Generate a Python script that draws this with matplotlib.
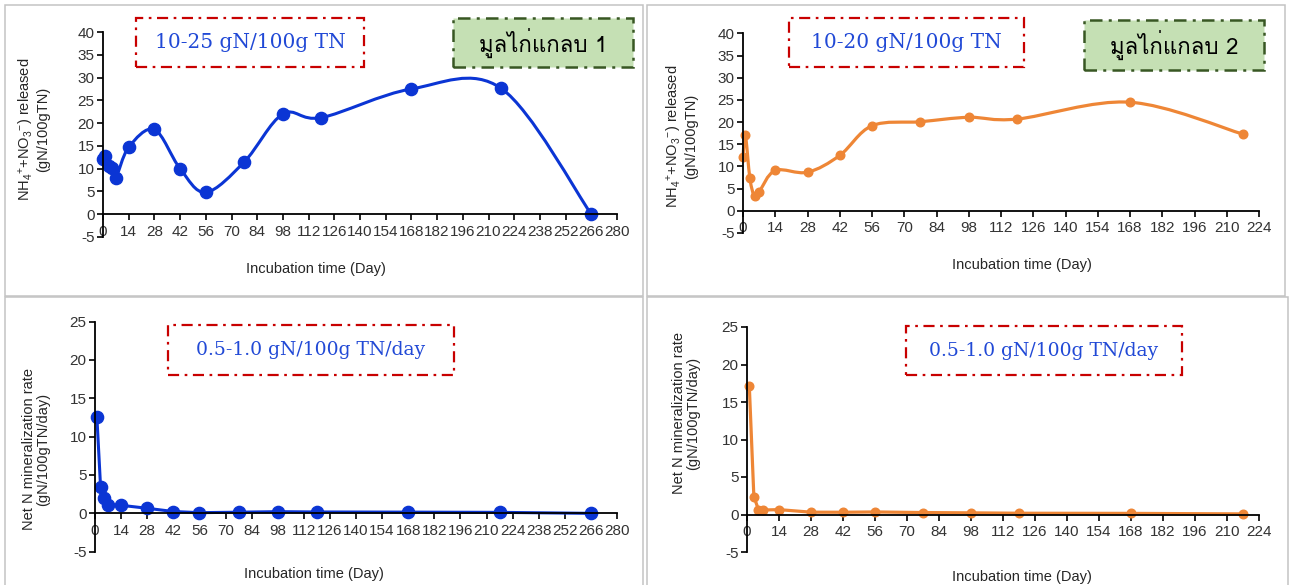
import numpy as np
import matplotlib
matplotlib.use("Agg")
import matplotlib.pyplot as plt
from matplotlib.patches import Rectangle, PathPatch
from matplotlib.path import Path
from matplotlib import font_manager as fm
from matplotlib.ft2font import FT2Font

# ---------------- data ----------------
days1 = [0, 1, 3, 5, 7, 14, 28, 42, 56, 77, 98, 119, 168, 217, 266]
released1 = [12.1, 12.8, 10.6, 10.1, 8.0, 14.7, 18.6, 10.0, 4.8, 11.5, 22.0, 21.2, 27.5, 27.6, 0.0]

days2 = [0, 1, 3, 5, 7, 14, 28, 42, 56, 77, 98, 119, 168, 217]
released2 = [12.2, 17.2, 7.3, 3.3, 4.3, 9.1, 8.7, 12.5, 19.2, 20.1, 21.1, 20.7, 24.5, 17.3]

rate_days1 = [1, 3, 5, 7, 14, 28, 42, 56, 77, 98, 119, 168, 217, 266]
rate1 = [12.6, 3.4, 2.0, 1.1, 1.05, 0.66, 0.24, 0.09, 0.15, 0.22, 0.18, 0.16, 0.13, 0.0]

rate_days2 = [1, 3, 5, 7, 14, 28, 42, 56, 77, 98, 119, 168, 217]
rate2 = [17.2, 2.4, 0.66, 0.6, 0.65, 0.31, 0.30, 0.34, 0.26, 0.22, 0.17, 0.15, 0.08]

xticks1 = list(range(0, 281, 14))
xticks2 = list(range(0, 225, 14))
yticks_top = list(range(-5, 41, 5))
yticks_bot = list(range(-5, 26, 5))

range_texts = ["10-25 gN/100g TN", "10-20 gN/100g TN",
               "0.5-1.0 gN/100g TN/day", "0.5-1.0 gN/100g TN/day"]
sample_names = ["มูลไก่แกลบ 1", "มูลไก่แกลบ 2"]
xlabel = "Incubation time (Day)"
ylabel_top = "NH$_4$$^{+}$+NO$_3$$^{-}$) released\n(gN/100gTN)"
ylabel_bot = "Net N mineralization rate\n(gN/100gTN/day)"

# ---------------- fonts ----------------
thai_family = None
names = set()
for f in fm.fontManager.ttflist:
    names.add(f.name)
for f in fm.fontManager.ttflist:
    if thai_family:
        break
    try:
        if 0x0E21 in FT2Font(f.fname).get_charmap():
            thai_family = f.name
    except Exception:
        pass
thai_fams = ([thai_family] if thai_family else []) + ["Liberation Sans", "DejaVu Sans"]
tick_family = "Liberation Sans Narrow" if "Liberation Sans Narrow" in names else "Liberation Sans"

plt.rcParams["font.family"] = ["Liberation Sans", "DejaVu Sans"]
plt.rcParams["axes.unicode_minus"] = False
plt.rcParams["mathtext.fontset"] = "custom"
plt.rcParams["mathtext.rm"] = "Liberation Sans"
plt.rcParams["mathtext.it"] = "Liberation Sans"

W, H = 1290, 585
fig = plt.figure(figsize=(W / 100, H / 100), dpi=100)
fig.patch.set_facecolor("white")

def fx(x):
    return x / W

def fy(y):
    return 1 - y / H

BLUE = "#0B35D4"
ORANGE = "#EE8636"
TXTBLUE = "#2149D6"
RED = "#C80000"
GREEN_FILL = "#C5E0B4"
GREEN_EDGE = "#385723"
TICKC = "#333333"

# panel borders
for (x0, y0, x1, y1) in [(5, 5, 643, 296), (647, 5, 1285, 296),
                         (5, 297, 643, 590), (647, 297, 1288, 590)]:
    fig.add_artist(Rectangle((fx(x0), fy(y1)), fx(x1 - x0), (y1 - y0) / H,
                             transform=fig.transFigure, fill=False,
                             edgecolor="#C3C3C3", lw=1.1))

def make_ax(px_left, px_right, px_top, px_bottom, xmax, xticks, ylo, yhi, yticks):
    ax = fig.add_axes([fx(px_left), fy(px_bottom), fx(px_right - px_left),
                       (px_bottom - px_top) / H])
    ax.set_xlim(0, xmax)
    ax.set_ylim(ylo, yhi)
    ax.set_xticks(xticks)
    ax.set_yticks(yticks)
    ax.spines["top"].set_visible(False)
    ax.spines["right"].set_visible(False)
    ax.spines["bottom"].set_position(("data", 0))
    for s in ("left", "bottom"):
        ax.spines[s].set_linewidth(1.3)
        ax.spines[s].set_color("black")
    ax.tick_params(axis="both", direction="out", length=4, width=1.2,
                   color="black", labelsize=11, labelcolor=TICKC, pad=2)
    ax.tick_params(axis="x", pad=3.5)
    for lab in ax.get_xticklabels() + ax.get_yticklabels():
        lab.set_family([tick_family, "Liberation Sans"])
    ax.patch.set_alpha(0)
    return ax

def smooth_path(xs, ys):
    pts = np.column_stack([xs, ys]).astype(float)
    n = len(pts)
    verts = [pts[0]]
    codes = [Path.MOVETO]
    for i in range(n - 1):
        p0 = pts[i - 1] if i > 0 else pts[i]
        p1 = pts[i]
        p2 = pts[i + 1]
        p3 = pts[i + 2] if i + 2 < n else pts[i + 1]
        c1 = p1 + (p2 - p0) / 6.0
        c2 = p2 - (p3 - p1) / 6.0
        verts += [c1, c2, p2]
        codes += [Path.CURVE4] * 3
    return Path(verts, codes)

def box(x0, y0, x1, y1, text, edge, fill, tcolor, size, family, lw=1.6):
    fig.add_artist(Rectangle((fx(x0), fy(y1)), fx(x1 - x0), (y1 - y0) / H,
                             transform=fig.transFigure,
                             facecolor=fill if fill else "none",
                             edgecolor=edge, lw=lw,
                             linestyle=(0, (5, 2.5, 1.2, 2.5))))
    fig.text(fx((x0 + x1) / 2), fy((y0 + y1) / 2), text, ha="center", va="center",
             color=tcolor, fontsize=size, family=family)

LABC = "#262626"

# ---- top-left ----
ax1 = make_ax(103, 617, 32, 237, 280, xticks1, -5, 40, yticks_top)
ax1.add_patch(PathPatch(smooth_path(days1, released1), transform=ax1.transData,
                        facecolor="none", edgecolor=BLUE, lw=2.2, clip_on=False))
ax1.plot(days1, released1, ls="none", marker="o", ms=8.8, color=BLUE, clip_on=False)
ax1.set_xlabel(xlabel, fontsize=10.5, color=LABC)
ax1.xaxis.set_label_coords(fx(316), fy(262), transform=fig.transFigure)
ax1.set_ylabel(ylabel_top, fontsize=10.5, color=LABC, va="center", linespacing=1.0)
ax1.yaxis.set_label_coords(fx(34), fy(129), transform=fig.transFigure)

# ---- top-right ----
ax2 = make_ax(743, 1259, 33.5, 233, 224, xticks2, -5, 40, yticks_top)
ax2.add_patch(PathPatch(smooth_path(days2, released2), transform=ax2.transData,
                        facecolor="none", edgecolor=ORANGE, lw=2.3, clip_on=False))
ax2.plot(days2, released2, ls="none", marker="o", ms=6.2, color=ORANGE, clip_on=False)
ax2.set_xlabel(xlabel, fontsize=10.5, color=LABC)
ax2.xaxis.set_label_coords(fx(1022), fy(258), transform=fig.transFigure)
ax2.set_ylabel(ylabel_top, fontsize=10.5, color=LABC, va="center", linespacing=1.0)
ax2.yaxis.set_label_coords(fx(682), fy(136), transform=fig.transFigure)

# ---- bottom-left ----
ax3 = make_ax(95, 617, 321.6, 551.7, 280, xticks1, -5, 25, yticks_bot)
ax3.plot(rate_days1, rate1, "-o", color=BLUE, lw=2.2, ms=8.8, clip_on=False)
ax3.set_xlabel(xlabel, fontsize=10.5, color=LABC)
ax3.xaxis.set_label_coords(fx(314), fy(567), transform=fig.transFigure)
ax3.set_ylabel(ylabel_bot, fontsize=10.5, color=LABC, va="center", linespacing=1.0)
ax3.yaxis.set_label_coords(fx(36), fy(449), transform=fig.transFigure)

# ---- bottom-right ----
ax4 = make_ax(747, 1259, 327, 552, 224, xticks2, -5, 25, yticks_bot)
ax4.plot(rate_days2, rate2, "-o", color=ORANGE, lw=2.3, ms=6.2, clip_on=False)
ax4.set_xlabel(xlabel, fontsize=10.5, color=LABC)
ax4.xaxis.set_label_coords(fx(1022), fy(570), transform=fig.transFigure)
ax4.set_ylabel(ylabel_bot, fontsize=10.5, color=LABC, va="center", linespacing=1.0)
ax4.yaxis.set_label_coords(fx(686), fy(413), transform=fig.transFigure)

# ---- annotation boxes ----
serif = ["DejaVu Serif"]
box(136, 18, 364, 67, range_texts[0], RED, None, TXTBLUE, 14.5, serif)
box(789, 18, 1024, 67, range_texts[1], RED, None, TXTBLUE, 14.5, serif)
box(167.5, 325, 453.5, 375, range_texts[2], RED, None, TXTBLUE, 13.5, serif)
box(905.5, 326, 1182, 375, range_texts[3], RED, None, TXTBLUE, 13.5, serif)
box(453, 18, 633, 67, sample_names[0], GREEN_EDGE, GREEN_FILL, "black", 16, thai_fams, lw=1.8)
box(1084, 20, 1264, 70, sample_names[1], GREEN_EDGE, GREEN_FILL, "black", 16, thai_fams, lw=1.8)

fig.savefig("out.png", dpi=100)
